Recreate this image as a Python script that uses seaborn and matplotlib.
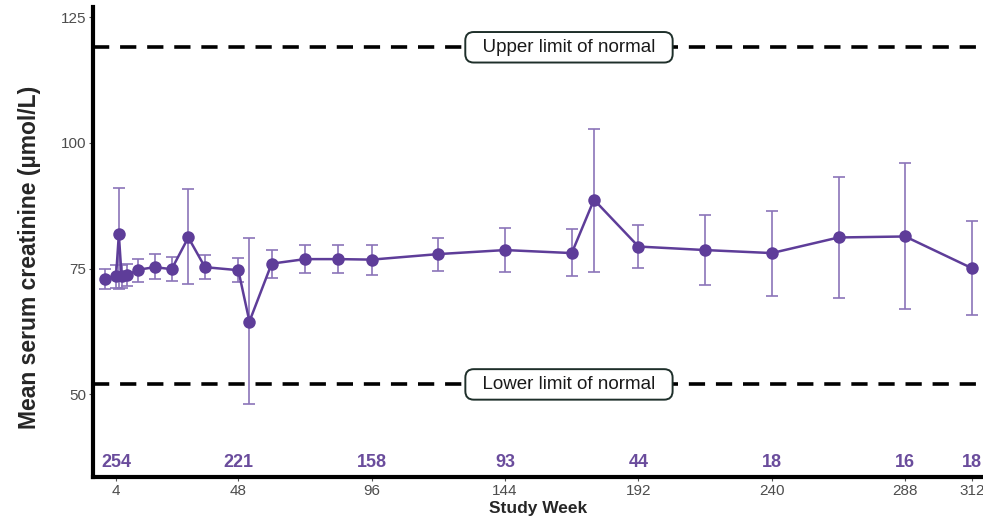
import matplotlib
matplotlib.use("Agg")
import matplotlib.pyplot as plt
import seaborn as sns
import pandas as pd
import numpy as np

weeks = [0, 4, 5, 6, 8, 12, 18, 24, 30, 36, 48, 52, 60, 72, 84, 96, 120, 144, 168, 176, 192, 216, 240, 264, 288, 312]
mean_creat = [72.9, 73.5, 81.8, 73.5, 73.7, 74.8, 75.3, 74.9, 81.2, 75.3, 74.7, 64.5, 76.0, 76.9, 76.9, 76.8,
              77.9, 78.7, 78.1, 88.7, 79.4, 78.7, 78.1, 81.2, 81.4, 75.1]
upper_ci = [75.0, 75.8, 91.1, 75.8, 75.9, 77.0, 77.9, 77.4, 90.8, 77.7, 77.1, 81.1, 78.8, 79.7, 79.7, 79.8,
            81.0, 83.0, 82.8, 102.8, 83.6, 85.7, 86.5, 93.2, 96.0, 84.5]
lower_ci = [70.9, 71.2, 71.0, 71.2, 71.5, 72.4, 73.0, 72.6, 71.9, 73.0, 72.3, 48.1, 73.2, 74.2, 74.2, 73.8,
            74.6, 74.3, 73.5, 74.3, 75.2, 71.8, 69.5, 69.1, 66.9, 65.8]

x_ticks = [4, 48, 96, 144, 192, 240, 288, 312]
y_ticks = [50, 75, 100, 125]
n_weeks = [4, 48, 96, 144, 192, 240, 288, 312]
n_labels = ["254", "221", "158", "93", "44", "18", "16", "18"]

uln = 119
lln = 52
uln_label = "Upper limit of normal"
lln_label = "Lower limit of normal"
x_label = "Study Week"
y_label = "Mean serum creatinine (µmol/L)"

sns.set_theme(style="white")
plt.rcParams['font.family'] = ['Liberation Sans', 'DejaVu Sans']

df = pd.DataFrame({"week": weeks, "mean": mean_creat, "lo": lower_ci, "hi": upper_ci})

main_col = "#5E3D99"
err_col = "#8B74B9"

fig = plt.figure(figsize=(9.83, 5.20), dpi=100)
ax = fig.add_axes([0.0946, 0.0827, 0.9054, 0.9038])

ax.errorbar(df["week"], df["mean"],
            yerr=[df["mean"] - df["lo"], df["hi"] - df["mean"]],
            fmt="none", ecolor=err_col, elinewidth=1.2, capsize=4.5, capthick=1.2, zorder=2)
sns.lineplot(data=df, x="week", y="mean", ax=ax, color=main_col, linewidth=1.8,
             marker="o", markersize=9, markeredgewidth=0, zorder=3, errorbar=None)

ax.axhline(uln, color="black", linestyle=(0, (4.5, 3)), linewidth=2.6, zorder=1)
ax.axhline(lln, color="black", linestyle=(0, (4.5, 3)), linewidth=2.6, zorder=1)

box = dict(boxstyle="round,pad=0.36,rounding_size=0.45", fc="white", ec="#1E2F2A", lw=1.4)
ax.text(167, uln, "  " + uln_label + "  ", ha="center", va="center", fontsize=13.5, color="#1a1a1a",
        bbox=box, zorder=5)
ax.text(167, lln, "  " + lln_label + "  ", ha="center", va="center", fontsize=13.5, color="#1a1a1a",
        bbox=box, zorder=5)

for w, lab in zip(n_weeks, n_labels):
    ax.text(w, 36.4, lab, ha="center", va="center", fontsize=13, fontweight="bold", color="#6A4C9C")

ax.set_xlim(-4.3, 316)
ax.set_ylim(33.6, 127)
ax.set_xticks(x_ticks)
ax.set_yticks(y_ticks)
ax.tick_params(axis="both", which="major", length=3, width=0.8, color="#555555",
               labelsize=11, labelcolor="#4D4D4D", direction="out", pad=2, bottom=True, left=True)

for s in ["top", "right"]:
    ax.spines[s].set_visible(False)
for s in ["left", "bottom"]:
    ax.spines[s].set_linewidth(3)
    ax.spines[s].set_color("black")

ax.set_xlabel(x_label, fontsize=12.5, fontweight="bold", labelpad=2)
ax.set_ylabel(y_label, fontsize=16.5, fontweight="bold")
ax.yaxis.set_label_coords(-0.058, 0.468)
ax.grid(False)

fig.savefig("out.png", dpi=100)
